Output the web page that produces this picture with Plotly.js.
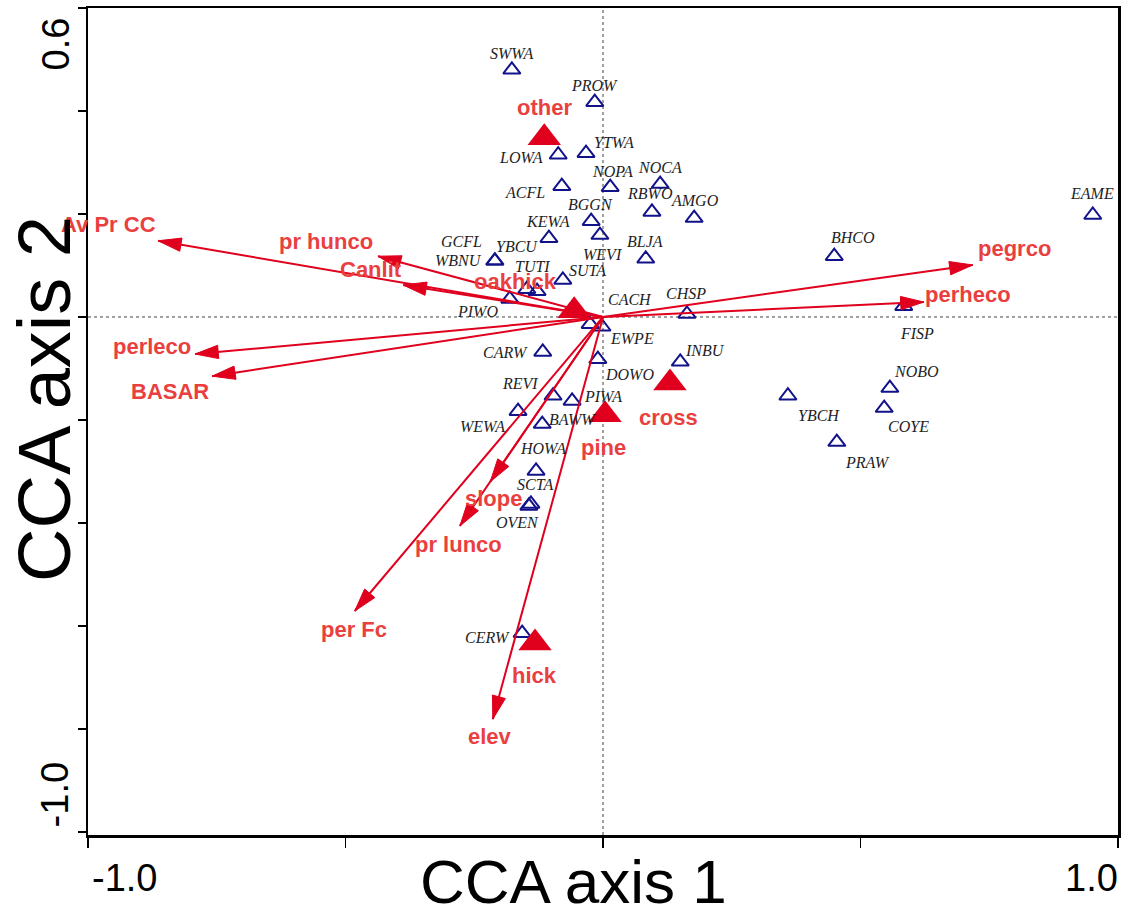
<!DOCTYPE html>
<html>
<head>
<meta charset="utf-8">
<script src="https://cdn.plot.ly/plotly-3.0.1.min.js"></script>
<style>html,body{margin:0;padding:0;background:#fff;}#plot{width:1128px;height:916px;}</style>
</head>
<body>
<div id="plot"></div>
<script>
// ---- species scores (CCA axis 1, axis 2) ----
const spNames = ['SWWA','PROW','YTWA','LOWA','NOCA','NOPA','ACFL','RBWO','AMGO','BGGN','KEWA','WEVI','BLJA','GCFL','WBNU','YBCU','TUTI','SUTA','PIWO','CACH','EWPE','CHSP','CARW','DOWO','INBU','REVI','PIWA','WEWA','BAWW','HOWA','SCTA','OVEN','CERW','EAME','BHCO','FISP','NOBO','COYE','YBCH','PRAW'];
const spX = [-0.177,-0.016,-0.033,-0.087,0.111,0.014,-0.080,0.095,0.177,-0.023,-0.105,-0.006,0.083,-0.210,-0.210,-0.128,-0.148,-0.078,-0.181,-0.025,-0.002,0.163,-0.117,-0.010,0.150,-0.097,-0.060,-0.165,-0.118,-0.130,-0.140,-0.144,-0.157,0.951,0.449,0.584,0.557,0.546,0.359,0.454];
const spY = [0.480,0.417,0.318,0.315,0.258,0.252,0.254,0.204,0.192,0.186,0.153,0.159,0.113,0.109,0.109,0.050,0.054,0.072,0.035,-0.014,-0.019,0.006,-0.068,-0.082,-0.087,-0.153,-0.163,-0.183,-0.208,-0.299,-0.363,-0.367,-0.614,0.198,0.118,0.021,-0.138,-0.177,-0.153,-0.243];

// ---- environmental variable biplot arrows (tips) ----
const envNames = ['Av Pr CC','pr hunco','Canlit','perleco','BASAR','slope','pr lunco','per Fc','elev','pegrco','perheco'];
const envX = [-0.864,-0.437,-0.388,-0.792,-0.759,-0.219,-0.278,-0.482,-0.214,0.718,0.623];
const envY = [0.148,0.118,0.062,-0.072,-0.115,-0.320,-0.406,-0.571,-0.781,0.101,0.029];

// ---- nominal (class) centroids ----
const clsNames = ['other','oakhick','cross','pine','hick'];
const clsX = [-0.114,-0.056,0.130,0.004,-0.132];
const clsY = [0.348,0.012,-0.128,-0.190,-0.633];

// ---- axis ticks ----
const xTicks = [-1.0,-0.5,0,0.5,1.0];
const yTicks = [-1.0,-0.8,-0.6,-0.4,-0.2,0,0.2,0.4,0.6];
const xTickLabels = ['-1.0','1.0'];
const yTickLabels = ['0.6','-1.0'];

// ---- label styling offsets (pixels: [dx, dy-up]) ----
const spLabOff = [[0,16],[0,17],[28,11],[-37,-3],[0,17],[2,16],[-37,-6],[-2,18],[1,18],[-1,17],[-1,17],[3,-19],[-1,17],[-33,19],[-36,0],[-20,45],[6,23],[25,9],[-32,-13],[40,25],[30,-12],[-1,20],[-37,-1],[32,-15],[25,11],[-33,12],[31,4],[-36,-15],[30,5],[7,22],[4,19],[-11,-17],[-35,-4],[-1,22],[19,19],[13,-27],[27,17],[24,-18],[31,-20],[31,-20]];
const envLabOff = [[-50,16],[-52,15],[-32,16],[-43,8],[-42,-15],[3,-17],[-1,-18],[-1,-18],[-3,-17],[42,16],[44,8]];
const clsLabOff = [[0,30],[-59,29],[-1,-35],[-2,-33],[-1,-33]];

const RED = '#e0001e';
const REDTXT = '#ea3f3f';
const NAVY = '#12128a';

// arrow lines from origin to tips
const lx = [], ly = [];
envX.forEach((x,i)=>{ lx.push(0, x, null); ly.push(0, envY[i], null); });
// arrowheads computed from tips (equal x/y scale)
const HL = 0.045, HW = 0.013;
const hx = [], hy = [];
envX.forEach((x,i)=>{
  const y = envY[i];
  const len = Math.sqrt(x*x+y*y);
  const ux = x/len, uy = y/len;
  const bx = x - ux*HL, by = y - uy*HL;
  hx.push(x, bx - uy*HW, bx + uy*HW, x, null);
  hy.push(y, by + ux*HW, by - ux*HW, y, null);
});

const traces = [
  {x: spX, y: spY, mode:'markers', type:'scatter', hoverinfo:'skip',
   marker:{symbol:'triangle-up-open', size:15, color:NAVY, line:{width:2, color:NAVY}}},
  {x: clsX, y: clsY, mode:'markers', type:'scatter', hoverinfo:'skip',
   marker:{symbol:'triangle-up', size:29, color:RED, line:{width:0}}},
  {x: lx, y: ly, mode:'lines', type:'scatter', hoverinfo:'skip',
   line:{color:RED, width:2}, connectgaps:false},
  {x: hx, y: hy, mode:'lines', type:'scatter', hoverinfo:'skip', fill:'toself', fillcolor:RED,
   line:{color:RED, width:1}, connectgaps:false}
];

const annotations = [];
spNames.forEach((n,i)=>{
  annotations.push({x:spX[i], y:spY[i], xref:'x', yref:'y', text:'<i>'+n+'</i>', showarrow:false,
    xshift:spLabOff[i][0], yshift:spLabOff[i][1],
    font:{family:'Liberation Serif, Times New Roman, serif', size:16, color:'#1e1e1e'}});
});
envNames.forEach((n,i)=>{
  annotations.push({x:envX[i], y:envY[i], xref:'x', yref:'y', text:'<b>'+n+'</b>', showarrow:false,
    xshift:envLabOff[i][0], yshift:envLabOff[i][1],
    font:{family:'Liberation Sans, Arial, sans-serif', size:22, color:REDTXT}});
});
clsNames.forEach((n,i)=>{
  annotations.push({x:clsX[i], y:clsY[i], xref:'x', yref:'y', text:'<b>'+n+'</b>', showarrow:false,
    xshift:clsLabOff[i][0], yshift:clsLabOff[i][1],
    font:{family:'Liberation Sans, Arial, sans-serif', size:22, color:REDTXT}});
});
// tick labels (placed inside the range as in the original) and axis titles
const tickFont = {family:'Liberation Sans, Arial, sans-serif', size:38, color:'#000'};
annotations.push({x:-1.0, y:0, xref:'x', yref:'paper', text:xTickLabels[0], showarrow:false, xanchor:'left', yanchor:'top', xshift:2, yshift:-20, font:tickFont});
annotations.push({x:1.0, y:0, xref:'x', yref:'paper', text:xTickLabels[1], showarrow:false, xanchor:'right', yanchor:'top', xshift:2, yshift:-20, font:tickFont});
annotations.push({x:0, y:0.6, xref:'paper', yref:'y', text:yTickLabels[0], showarrow:false, textangle:-90, xanchor:'right', yanchor:'top', xshift:-10, yshift:-8, font:tickFont});
annotations.push({x:0, y:-1.0, xref:'paper', yref:'y', text:yTickLabels[1], showarrow:false, textangle:-90, xanchor:'right', yanchor:'bottom', xshift:-10, yshift:2, font:tickFont});
annotations.push({x:0.5, y:0, xref:'paper', yref:'paper', text:'CCA axis 1', showarrow:false, xanchor:'center', yanchor:'top', yshift:-10, xshift:-30,
  font:{family:'Liberation Sans, Arial, sans-serif', size:62, color:'#000'}});
annotations.push({x:0, y:0.5, xref:'paper', yref:'paper', text:'CCA axis 2', showarrow:false, textangle:-90, xanchor:'right', yanchor:'middle', xshift:0, yshift:22,
  font:{family:'Liberation Sans, Arial, sans-serif', size:74, color:'#000'}});

const layout = {
  width:1128, height:916,
  margin:{l:88, r:10, t:8, b:81},
  paper_bgcolor:'#fff', plot_bgcolor:'#fff',
  showlegend:false,
  xaxis:{range:[-1.0,1.0], tickmode:'array', tickvals:xTicks, ticktext:xTicks.map(()=>''),
    ticks:'outside', ticklen:10, tickwidth:1.5, tickcolor:'#000',
    showline:true, linecolor:'#000', linewidth:2.5, mirror:true,
    showgrid:false, zeroline:false, fixedrange:true},
  yaxis:{range:[-1.006,0.6], tickmode:'array', tickvals:yTicks, ticktext:yTicks.map(()=>''),
    ticks:'outside', ticklen:8, tickwidth:1.5, tickcolor:'#000',
    showline:true, linecolor:'#000', linewidth:2.5, mirror:true,
    showgrid:false, zeroline:false, fixedrange:true},
  shapes:[
    {type:'line', xref:'x', yref:'paper', x0:0, x1:0, y0:0, y1:1, layer:'below', line:{color:'#444', width:1, dash:'3px,3px'}},
    {type:'line', xref:'paper', yref:'y', x0:0, x1:1, y0:0, y1:0, layer:'below', line:{color:'#444', width:1, dash:'3px,3px'}}
  ],
  annotations: annotations
};

Plotly.newPlot('plot', traces, layout, {staticPlot:true, displayModeBar:false});
</script>
</body>
</html>
